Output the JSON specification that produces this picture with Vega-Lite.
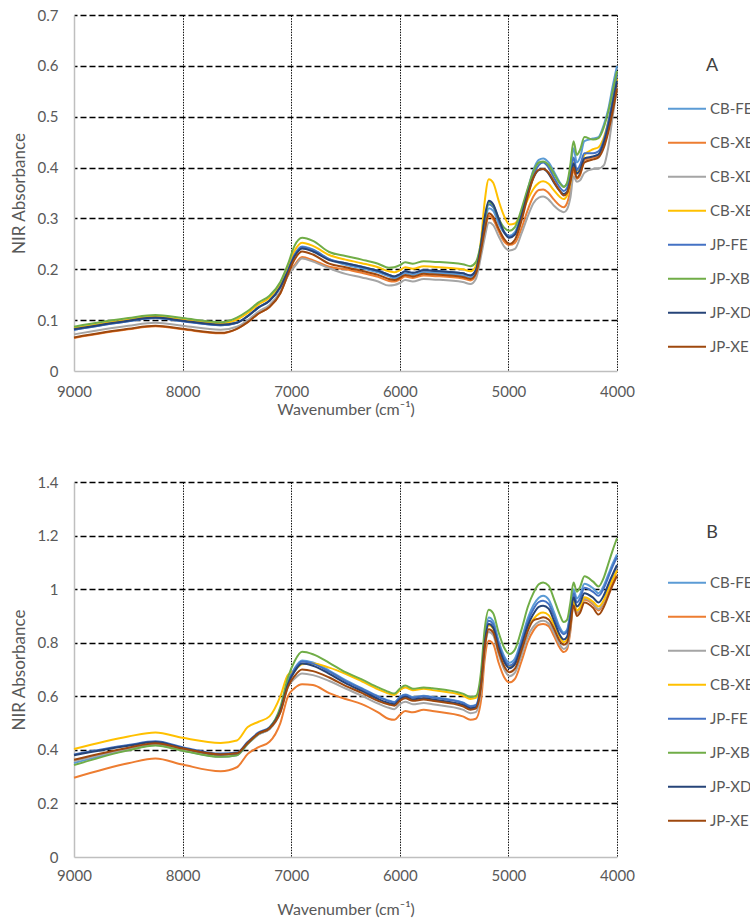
{
"$schema": "https://vega.github.io/schema/vega-lite/v6.json",
"background": "white",
"padding": {"left": 10, "top": 8, "right": 0, "bottom": 4},
"spacing": 111,
"bounds": "flush",
"config": {
 "font": "Lato",
 "view": {"stroke": null},
 "axis": {"labelFont": "Lato", "titleFont": "Lato", "labelColor": "#595959", "titleColor": "#595959", "labelFontSize": 15, "titleFontSize": 16, "titleFontWeight": "normal", "ticks": false, "domainColor": "#bfbfbf", "domainWidth": 1.5, "labelFlush": false},
 "axisX": {"gridColor": "#111111", "gridDash": [1.5, 1.2], "gridWidth": 1},
 "axisY": {"gridColor": "#000000", "gridDash": [6, 3], "gridWidth": 1.6, "labelPadding": 16, "titlePadding": 9, "titleFontSize": 17},
 "legend": {"symbolType": "stroke", "symbolSize": 1444, "symbolStrokeWidth": 2, "labelFont": "Lato", "labelFontSize": 15, "labelColor": "#595959", "labelOffset": 3, "titleFont": "Lato", "titleFontSize": 18, "titleFontWeight": "normal", "titleColor": "#404040", "titleAnchor": "middle", "clipHeight": 33.4, "rowPadding": 0}
},
"resolve": {"scale": {"color": "independent"}, "legend": {"color": "independent"}},
"datasets": {
"A": [
{"s":"CB-FE","w":9000,"v":0.081},{"s":"CB-FE","w":8500,"v":0.098},{"s":"CB-FE","w":8250,"v":0.104},{"s":"CB-FE","w":8000,"v":0.098},{"s":"CB-FE","w":7650,"v":0.090},{"s":"CB-FE","w":7500,"v":0.095},{"s":"CB-FE","w":7400,"v":0.108},{"s":"CB-FE","w":7300,"v":0.125},{"s":"CB-FE","w":7200,"v":0.138},{"s":"CB-FE","w":7100,"v":0.165},{"s":"CB-FE","w":7030,"v":0.198},{"s":"CB-FE","w":6970,"v":0.229},{"s":"CB-FE","w":6900,"v":0.245},{"s":"CB-FE","w":6800,"v":0.239},{"s":"CB-FE","w":6650,"v":0.220},{"s":"CB-FE","w":6500,"v":0.209},{"s":"CB-FE","w":6350,"v":0.202},{"s":"CB-FE","w":6200,"v":0.194},{"s":"CB-FE","w":6100,"v":0.186},{"s":"CB-FE","w":6050,"v":0.182},{"s":"CB-FE","w":6000,"v":0.186},{"s":"CB-FE","w":5950,"v":0.192},{"s":"CB-FE","w":5880,"v":0.189},{"s":"CB-FE","w":5780,"v":0.194},{"s":"CB-FE","w":5700,"v":0.193},{"s":"CB-FE","w":5420,"v":0.188},{"s":"CB-FE","w":5350,"v":0.184},{"s":"CB-FE","w":5300,"v":0.194},{"s":"CB-FE","w":5250,"v":0.245},{"s":"CB-FE","w":5220,"v":0.285},{"s":"CB-FE","w":5180,"v":0.320},{"s":"CB-FE","w":5140,"v":0.315},{"s":"CB-FE","w":5090,"v":0.290},{"s":"CB-FE","w":5040,"v":0.272},{"s":"CB-FE","w":4990,"v":0.266},{"s":"CB-FE","w":4940,"v":0.273},{"s":"CB-FE","w":4880,"v":0.310},{"s":"CB-FE","w":4820,"v":0.358},{"s":"CB-FE","w":4770,"v":0.395},{"s":"CB-FE","w":4720,"v":0.415},{"s":"CB-FE","w":4680,"v":0.418},{"s":"CB-FE","w":4630,"v":0.410},{"s":"CB-FE","w":4580,"v":0.392},{"s":"CB-FE","w":4530,"v":0.372},{"s":"CB-FE","w":4490,"v":0.363},{"s":"CB-FE","w":4460,"v":0.368},{"s":"CB-FE","w":4430,"v":0.395},{"s":"CB-FE","w":4400,"v":0.438},{"s":"CB-FE","w":4370,"v":0.410},{"s":"CB-FE","w":4340,"v":0.420},{"s":"CB-FE","w":4300,"v":0.452},{"s":"CB-FE","w":4220,"v":0.457},{"s":"CB-FE","w":4170,"v":0.460},{"s":"CB-FE","w":4120,"v":0.485},{"s":"CB-FE","w":4080,"v":0.515},{"s":"CB-FE","w":4040,"v":0.560},{"s":"CB-FE","w":4000,"v":0.600},
{"s":"CB-XB","w":9000,"v":0.065},{"s":"CB-XB","w":8500,"v":0.082},{"s":"CB-XB","w":8250,"v":0.088},{"s":"CB-XB","w":8000,"v":0.082},{"s":"CB-XB","w":7650,"v":0.074},{"s":"CB-XB","w":7500,"v":0.083},{"s":"CB-XB","w":7400,"v":0.096},{"s":"CB-XB","w":7300,"v":0.113},{"s":"CB-XB","w":7200,"v":0.126},{"s":"CB-XB","w":7100,"v":0.153},{"s":"CB-XB","w":7030,"v":0.188},{"s":"CB-XB","w":6970,"v":0.208},{"s":"CB-XB","w":6900,"v":0.224},{"s":"CB-XB","w":6800,"v":0.218},{"s":"CB-XB","w":6650,"v":0.205},{"s":"CB-XB","w":6500,"v":0.200},{"s":"CB-XB","w":6350,"v":0.193},{"s":"CB-XB","w":6200,"v":0.185},{"s":"CB-XB","w":6100,"v":0.177},{"s":"CB-XB","w":6050,"v":0.176},{"s":"CB-XB","w":6000,"v":0.180},{"s":"CB-XB","w":5950,"v":0.186},{"s":"CB-XB","w":5880,"v":0.183},{"s":"CB-XB","w":5780,"v":0.188},{"s":"CB-XB","w":5700,"v":0.187},{"s":"CB-XB","w":5420,"v":0.182},{"s":"CB-XB","w":5350,"v":0.178},{"s":"CB-XB","w":5300,"v":0.188},{"s":"CB-XB","w":5250,"v":0.238},{"s":"CB-XB","w":5220,"v":0.270},{"s":"CB-XB","w":5180,"v":0.305},{"s":"CB-XB","w":5140,"v":0.298},{"s":"CB-XB","w":5090,"v":0.275},{"s":"CB-XB","w":5040,"v":0.255},{"s":"CB-XB","w":4990,"v":0.248},{"s":"CB-XB","w":4940,"v":0.252},{"s":"CB-XB","w":4880,"v":0.280},{"s":"CB-XB","w":4820,"v":0.318},{"s":"CB-XB","w":4770,"v":0.343},{"s":"CB-XB","w":4720,"v":0.356},{"s":"CB-XB","w":4680,"v":0.357},{"s":"CB-XB","w":4630,"v":0.350},{"s":"CB-XB","w":4580,"v":0.337},{"s":"CB-XB","w":4530,"v":0.326},{"s":"CB-XB","w":4490,"v":0.322},{"s":"CB-XB","w":4460,"v":0.330},{"s":"CB-XB","w":4430,"v":0.355},{"s":"CB-XB","w":4400,"v":0.395},{"s":"CB-XB","w":4370,"v":0.378},{"s":"CB-XB","w":4340,"v":0.385},{"s":"CB-XB","w":4300,"v":0.415},{"s":"CB-XB","w":4220,"v":0.420},{"s":"CB-XB","w":4170,"v":0.424},{"s":"CB-XB","w":4120,"v":0.445},{"s":"CB-XB","w":4080,"v":0.475},{"s":"CB-XB","w":4040,"v":0.520},{"s":"CB-XB","w":4000,"v":0.565},
{"s":"CB-XD","w":9000,"v":0.072},{"s":"CB-XD","w":8500,"v":0.089},{"s":"CB-XD","w":8250,"v":0.095},{"s":"CB-XD","w":8000,"v":0.089},{"s":"CB-XD","w":7650,"v":0.081},{"s":"CB-XD","w":7500,"v":0.087},{"s":"CB-XD","w":7400,"v":0.100},{"s":"CB-XD","w":7300,"v":0.117},{"s":"CB-XD","w":7200,"v":0.130},{"s":"CB-XD","w":7100,"v":0.157},{"s":"CB-XD","w":7030,"v":0.188},{"s":"CB-XD","w":6970,"v":0.205},{"s":"CB-XD","w":6900,"v":0.221},{"s":"CB-XD","w":6800,"v":0.215},{"s":"CB-XD","w":6650,"v":0.202},{"s":"CB-XD","w":6500,"v":0.191},{"s":"CB-XD","w":6350,"v":0.184},{"s":"CB-XD","w":6200,"v":0.176},{"s":"CB-XD","w":6100,"v":0.168},{"s":"CB-XD","w":6050,"v":0.169},{"s":"CB-XD","w":6000,"v":0.173},{"s":"CB-XD","w":5950,"v":0.179},{"s":"CB-XD","w":5880,"v":0.176},{"s":"CB-XD","w":5780,"v":0.181},{"s":"CB-XD","w":5700,"v":0.180},{"s":"CB-XD","w":5420,"v":0.175},{"s":"CB-XD","w":5350,"v":0.171},{"s":"CB-XD","w":5300,"v":0.181},{"s":"CB-XD","w":5250,"v":0.228},{"s":"CB-XD","w":5220,"v":0.260},{"s":"CB-XD","w":5180,"v":0.292},{"s":"CB-XD","w":5140,"v":0.287},{"s":"CB-XD","w":5090,"v":0.265},{"s":"CB-XD","w":5040,"v":0.245},{"s":"CB-XD","w":4990,"v":0.237},{"s":"CB-XD","w":4940,"v":0.240},{"s":"CB-XD","w":4880,"v":0.270},{"s":"CB-XD","w":4820,"v":0.305},{"s":"CB-XD","w":4770,"v":0.330},{"s":"CB-XD","w":4720,"v":0.341},{"s":"CB-XD","w":4680,"v":0.343},{"s":"CB-XD","w":4630,"v":0.337},{"s":"CB-XD","w":4580,"v":0.325},{"s":"CB-XD","w":4530,"v":0.316},{"s":"CB-XD","w":4490,"v":0.312},{"s":"CB-XD","w":4460,"v":0.318},{"s":"CB-XD","w":4430,"v":0.340},{"s":"CB-XD","w":4400,"v":0.383},{"s":"CB-XD","w":4370,"v":0.372},{"s":"CB-XD","w":4340,"v":0.375},{"s":"CB-XD","w":4300,"v":0.390},{"s":"CB-XD","w":4220,"v":0.397},{"s":"CB-XD","w":4170,"v":0.398},{"s":"CB-XD","w":4120,"v":0.405},{"s":"CB-XD","w":4080,"v":0.440},{"s":"CB-XD","w":4040,"v":0.500},{"s":"CB-XD","w":4000,"v":0.555},
{"s":"CB-XE","w":9000,"v":0.084},{"s":"CB-XE","w":8500,"v":0.101},{"s":"CB-XE","w":8250,"v":0.107},{"s":"CB-XE","w":8000,"v":0.101},{"s":"CB-XE","w":7650,"v":0.093},{"s":"CB-XE","w":7500,"v":0.101},{"s":"CB-XE","w":7400,"v":0.114},{"s":"CB-XE","w":7300,"v":0.131},{"s":"CB-XE","w":7200,"v":0.144},{"s":"CB-XE","w":7100,"v":0.171},{"s":"CB-XE","w":7030,"v":0.206},{"s":"CB-XE","w":6970,"v":0.236},{"s":"CB-XE","w":6900,"v":0.252},{"s":"CB-XE","w":6800,"v":0.246},{"s":"CB-XE","w":6650,"v":0.228},{"s":"CB-XE","w":6500,"v":0.219},{"s":"CB-XE","w":6350,"v":0.212},{"s":"CB-XE","w":6200,"v":0.204},{"s":"CB-XE","w":6100,"v":0.196},{"s":"CB-XE","w":6050,"v":0.194},{"s":"CB-XE","w":6000,"v":0.198},{"s":"CB-XE","w":5950,"v":0.204},{"s":"CB-XE","w":5880,"v":0.201},{"s":"CB-XE","w":5780,"v":0.206},{"s":"CB-XE","w":5700,"v":0.205},{"s":"CB-XE","w":5420,"v":0.200},{"s":"CB-XE","w":5350,"v":0.196},{"s":"CB-XE","w":5300,"v":0.206},{"s":"CB-XE","w":5250,"v":0.262},{"s":"CB-XE","w":5220,"v":0.330},{"s":"CB-XE","w":5180,"v":0.377},{"s":"CB-XE","w":5140,"v":0.370},{"s":"CB-XE","w":5090,"v":0.335},{"s":"CB-XE","w":5040,"v":0.305},{"s":"CB-XE","w":4990,"v":0.288},{"s":"CB-XE","w":4940,"v":0.290},{"s":"CB-XE","w":4880,"v":0.310},{"s":"CB-XE","w":4820,"v":0.338},{"s":"CB-XE","w":4770,"v":0.358},{"s":"CB-XE","w":4720,"v":0.370},{"s":"CB-XE","w":4680,"v":0.373},{"s":"CB-XE","w":4630,"v":0.368},{"s":"CB-XE","w":4580,"v":0.355},{"s":"CB-XE","w":4530,"v":0.343},{"s":"CB-XE","w":4490,"v":0.338},{"s":"CB-XE","w":4460,"v":0.345},{"s":"CB-XE","w":4430,"v":0.370},{"s":"CB-XE","w":4400,"v":0.410},{"s":"CB-XE","w":4370,"v":0.390},{"s":"CB-XE","w":4340,"v":0.398},{"s":"CB-XE","w":4300,"v":0.425},{"s":"CB-XE","w":4220,"v":0.436},{"s":"CB-XE","w":4170,"v":0.440},{"s":"CB-XE","w":4120,"v":0.460},{"s":"CB-XE","w":4080,"v":0.490},{"s":"CB-XE","w":4040,"v":0.530},{"s":"CB-XE","w":4000,"v":0.575},
{"s":"JP-FE","w":9000,"v":0.081},{"s":"JP-FE","w":8500,"v":0.098},{"s":"JP-FE","w":8250,"v":0.104},{"s":"JP-FE","w":8000,"v":0.098},{"s":"JP-FE","w":7650,"v":0.090},{"s":"JP-FE","w":7500,"v":0.095},{"s":"JP-FE","w":7400,"v":0.108},{"s":"JP-FE","w":7300,"v":0.125},{"s":"JP-FE","w":7200,"v":0.138},{"s":"JP-FE","w":7100,"v":0.165},{"s":"JP-FE","w":7030,"v":0.198},{"s":"JP-FE","w":6970,"v":0.228},{"s":"JP-FE","w":6900,"v":0.244},{"s":"JP-FE","w":6800,"v":0.238},{"s":"JP-FE","w":6650,"v":0.220},{"s":"JP-FE","w":6500,"v":0.212},{"s":"JP-FE","w":6350,"v":0.205},{"s":"JP-FE","w":6200,"v":0.197},{"s":"JP-FE","w":6100,"v":0.189},{"s":"JP-FE","w":6050,"v":0.186},{"s":"JP-FE","w":6000,"v":0.190},{"s":"JP-FE","w":5950,"v":0.196},{"s":"JP-FE","w":5880,"v":0.193},{"s":"JP-FE","w":5780,"v":0.198},{"s":"JP-FE","w":5700,"v":0.197},{"s":"JP-FE","w":5420,"v":0.192},{"s":"JP-FE","w":5350,"v":0.188},{"s":"JP-FE","w":5300,"v":0.198},{"s":"JP-FE","w":5250,"v":0.250},{"s":"JP-FE","w":5220,"v":0.295},{"s":"JP-FE","w":5180,"v":0.328},{"s":"JP-FE","w":5140,"v":0.322},{"s":"JP-FE","w":5090,"v":0.296},{"s":"JP-FE","w":5040,"v":0.274},{"s":"JP-FE","w":4990,"v":0.264},{"s":"JP-FE","w":4940,"v":0.270},{"s":"JP-FE","w":4880,"v":0.305},{"s":"JP-FE","w":4820,"v":0.352},{"s":"JP-FE","w":4770,"v":0.385},{"s":"JP-FE","w":4720,"v":0.405},{"s":"JP-FE","w":4680,"v":0.410},{"s":"JP-FE","w":4630,"v":0.400},{"s":"JP-FE","w":4580,"v":0.380},{"s":"JP-FE","w":4530,"v":0.362},{"s":"JP-FE","w":4490,"v":0.354},{"s":"JP-FE","w":4460,"v":0.360},{"s":"JP-FE","w":4430,"v":0.385},{"s":"JP-FE","w":4400,"v":0.420},{"s":"JP-FE","w":4370,"v":0.395},{"s":"JP-FE","w":4340,"v":0.405},{"s":"JP-FE","w":4300,"v":0.428},{"s":"JP-FE","w":4220,"v":0.428},{"s":"JP-FE","w":4170,"v":0.432},{"s":"JP-FE","w":4120,"v":0.455},{"s":"JP-FE","w":4080,"v":0.490},{"s":"JP-FE","w":4040,"v":0.535},{"s":"JP-FE","w":4000,"v":0.585},
{"s":"JP-XB","w":9000,"v":0.087},{"s":"JP-XB","w":8500,"v":0.104},{"s":"JP-XB","w":8250,"v":0.110},{"s":"JP-XB","w":8000,"v":0.104},{"s":"JP-XB","w":7650,"v":0.096},{"s":"JP-XB","w":7500,"v":0.105},{"s":"JP-XB","w":7400,"v":0.118},{"s":"JP-XB","w":7300,"v":0.135},{"s":"JP-XB","w":7200,"v":0.148},{"s":"JP-XB","w":7100,"v":0.175},{"s":"JP-XB","w":7030,"v":0.210},{"s":"JP-XB","w":6970,"v":0.246},{"s":"JP-XB","w":6900,"v":0.262},{"s":"JP-XB","w":6800,"v":0.256},{"s":"JP-XB","w":6650,"v":0.234},{"s":"JP-XB","w":6500,"v":0.226},{"s":"JP-XB","w":6350,"v":0.219},{"s":"JP-XB","w":6200,"v":0.211},{"s":"JP-XB","w":6100,"v":0.203},{"s":"JP-XB","w":6050,"v":0.204},{"s":"JP-XB","w":6000,"v":0.208},{"s":"JP-XB","w":5950,"v":0.214},{"s":"JP-XB","w":5880,"v":0.211},{"s":"JP-XB","w":5780,"v":0.216},{"s":"JP-XB","w":5700,"v":0.215},{"s":"JP-XB","w":5420,"v":0.210},{"s":"JP-XB","w":5350,"v":0.206},{"s":"JP-XB","w":5300,"v":0.214},{"s":"JP-XB","w":5250,"v":0.255},{"s":"JP-XB","w":5220,"v":0.295},{"s":"JP-XB","w":5180,"v":0.332},{"s":"JP-XB","w":5140,"v":0.326},{"s":"JP-XB","w":5090,"v":0.300},{"s":"JP-XB","w":5040,"v":0.282},{"s":"JP-XB","w":4990,"v":0.276},{"s":"JP-XB","w":4940,"v":0.283},{"s":"JP-XB","w":4880,"v":0.318},{"s":"JP-XB","w":4820,"v":0.360},{"s":"JP-XB","w":4770,"v":0.392},{"s":"JP-XB","w":4720,"v":0.410},{"s":"JP-XB","w":4680,"v":0.412},{"s":"JP-XB","w":4630,"v":0.405},{"s":"JP-XB","w":4580,"v":0.388},{"s":"JP-XB","w":4530,"v":0.370},{"s":"JP-XB","w":4490,"v":0.362},{"s":"JP-XB","w":4460,"v":0.370},{"s":"JP-XB","w":4430,"v":0.405},{"s":"JP-XB","w":4400,"v":0.452},{"s":"JP-XB","w":4370,"v":0.425},{"s":"JP-XB","w":4340,"v":0.435},{"s":"JP-XB","w":4300,"v":0.460},{"s":"JP-XB","w":4220,"v":0.455},{"s":"JP-XB","w":4170,"v":0.458},{"s":"JP-XB","w":4120,"v":0.480},{"s":"JP-XB","w":4080,"v":0.510},{"s":"JP-XB","w":4040,"v":0.550},{"s":"JP-XB","w":4000,"v":0.590},
{"s":"JP-XD","w":9000,"v":0.082},{"s":"JP-XD","w":8500,"v":0.099},{"s":"JP-XD","w":8250,"v":0.105},{"s":"JP-XD","w":8000,"v":0.099},{"s":"JP-XD","w":7650,"v":0.091},{"s":"JP-XD","w":7500,"v":0.095},{"s":"JP-XD","w":7400,"v":0.108},{"s":"JP-XD","w":7300,"v":0.125},{"s":"JP-XD","w":7200,"v":0.138},{"s":"JP-XD","w":7100,"v":0.165},{"s":"JP-XD","w":7030,"v":0.196},{"s":"JP-XD","w":6970,"v":0.225},{"s":"JP-XD","w":6900,"v":0.241},{"s":"JP-XD","w":6800,"v":0.235},{"s":"JP-XD","w":6650,"v":0.218},{"s":"JP-XD","w":6500,"v":0.212},{"s":"JP-XD","w":6350,"v":0.205},{"s":"JP-XD","w":6200,"v":0.197},{"s":"JP-XD","w":6100,"v":0.189},{"s":"JP-XD","w":6050,"v":0.186},{"s":"JP-XD","w":6000,"v":0.190},{"s":"JP-XD","w":5950,"v":0.196},{"s":"JP-XD","w":5880,"v":0.193},{"s":"JP-XD","w":5780,"v":0.198},{"s":"JP-XD","w":5700,"v":0.197},{"s":"JP-XD","w":5420,"v":0.192},{"s":"JP-XD","w":5350,"v":0.188},{"s":"JP-XD","w":5300,"v":0.198},{"s":"JP-XD","w":5250,"v":0.252},{"s":"JP-XD","w":5220,"v":0.300},{"s":"JP-XD","w":5180,"v":0.335},{"s":"JP-XD","w":5140,"v":0.328},{"s":"JP-XD","w":5090,"v":0.300},{"s":"JP-XD","w":5040,"v":0.273},{"s":"JP-XD","w":4990,"v":0.262},{"s":"JP-XD","w":4940,"v":0.268},{"s":"JP-XD","w":4880,"v":0.305},{"s":"JP-XD","w":4820,"v":0.350},{"s":"JP-XD","w":4770,"v":0.380},{"s":"JP-XD","w":4720,"v":0.395},{"s":"JP-XD","w":4680,"v":0.397},{"s":"JP-XD","w":4630,"v":0.388},{"s":"JP-XD","w":4580,"v":0.370},{"s":"JP-XD","w":4530,"v":0.355},{"s":"JP-XD","w":4490,"v":0.348},{"s":"JP-XD","w":4460,"v":0.352},{"s":"JP-XD","w":4430,"v":0.375},{"s":"JP-XD","w":4400,"v":0.408},{"s":"JP-XD","w":4370,"v":0.388},{"s":"JP-XD","w":4340,"v":0.395},{"s":"JP-XD","w":4300,"v":0.418},{"s":"JP-XD","w":4220,"v":0.422},{"s":"JP-XD","w":4170,"v":0.426},{"s":"JP-XD","w":4120,"v":0.450},{"s":"JP-XD","w":4080,"v":0.482},{"s":"JP-XD","w":4040,"v":0.525},{"s":"JP-XD","w":4000,"v":0.570},
{"s":"JP-XE","w":9000,"v":0.066},{"s":"JP-XE","w":8500,"v":0.083},{"s":"JP-XE","w":8250,"v":0.089},{"s":"JP-XE","w":8000,"v":0.083},{"s":"JP-XE","w":7650,"v":0.075},{"s":"JP-XE","w":7500,"v":0.083},{"s":"JP-XE","w":7400,"v":0.096},{"s":"JP-XE","w":7300,"v":0.113},{"s":"JP-XE","w":7200,"v":0.126},{"s":"JP-XE","w":7100,"v":0.153},{"s":"JP-XE","w":7030,"v":0.190},{"s":"JP-XE","w":6970,"v":0.219},{"s":"JP-XE","w":6900,"v":0.235},{"s":"JP-XE","w":6800,"v":0.229},{"s":"JP-XE","w":6650,"v":0.211},{"s":"JP-XE","w":6500,"v":0.204},{"s":"JP-XE","w":6350,"v":0.197},{"s":"JP-XE","w":6200,"v":0.189},{"s":"JP-XE","w":6100,"v":0.181},{"s":"JP-XE","w":6050,"v":0.179},{"s":"JP-XE","w":6000,"v":0.183},{"s":"JP-XE","w":5950,"v":0.189},{"s":"JP-XE","w":5880,"v":0.186},{"s":"JP-XE","w":5780,"v":0.191},{"s":"JP-XE","w":5700,"v":0.190},{"s":"JP-XE","w":5420,"v":0.185},{"s":"JP-XE","w":5350,"v":0.181},{"s":"JP-XE","w":5300,"v":0.191},{"s":"JP-XE","w":5250,"v":0.240},{"s":"JP-XE","w":5220,"v":0.275},{"s":"JP-XE","w":5180,"v":0.310},{"s":"JP-XE","w":5140,"v":0.303},{"s":"JP-XE","w":5090,"v":0.280},{"s":"JP-XE","w":5040,"v":0.260},{"s":"JP-XE","w":4990,"v":0.250},{"s":"JP-XE","w":4940,"v":0.258},{"s":"JP-XE","w":4880,"v":0.295},{"s":"JP-XE","w":4820,"v":0.345},{"s":"JP-XE","w":4770,"v":0.380},{"s":"JP-XE","w":4720,"v":0.396},{"s":"JP-XE","w":4680,"v":0.397},{"s":"JP-XE","w":4630,"v":0.390},{"s":"JP-XE","w":4580,"v":0.372},{"s":"JP-XE","w":4530,"v":0.355},{"s":"JP-XE","w":4490,"v":0.345},{"s":"JP-XE","w":4460,"v":0.350},{"s":"JP-XE","w":4430,"v":0.372},{"s":"JP-XE","w":4400,"v":0.400},{"s":"JP-XE","w":4370,"v":0.380},{"s":"JP-XE","w":4340,"v":0.388},{"s":"JP-XE","w":4300,"v":0.410},{"s":"JP-XE","w":4220,"v":0.416},{"s":"JP-XE","w":4170,"v":0.420},{"s":"JP-XE","w":4120,"v":0.440},{"s":"JP-XE","w":4080,"v":0.470},{"s":"JP-XE","w":4040,"v":0.510},{"s":"JP-XE","w":4000,"v":0.555}
],
"B": [
{"s":"CB-FE","w":9000,"v":0.351},{"s":"CB-FE","w":8500,"v":0.400},{"s":"CB-FE","w":8250,"v":0.418},{"s":"CB-FE","w":8000,"v":0.398},{"s":"CB-FE","w":7650,"v":0.374},{"s":"CB-FE","w":7500,"v":0.380},{"s":"CB-FE","w":7400,"v":0.422},{"s":"CB-FE","w":7300,"v":0.458},{"s":"CB-FE","w":7200,"v":0.478},{"s":"CB-FE","w":7100,"v":0.548},{"s":"CB-FE","w":7030,"v":0.655},{"s":"CB-FE","w":6970,"v":0.704},{"s":"CB-FE","w":6900,"v":0.734},{"s":"CB-FE","w":6800,"v":0.726},{"s":"CB-FE","w":6650,"v":0.696},{"s":"CB-FE","w":6500,"v":0.660},{"s":"CB-FE","w":6350,"v":0.630},{"s":"CB-FE","w":6200,"v":0.600},{"s":"CB-FE","w":6100,"v":0.584},{"s":"CB-FE","w":6050,"v":0.579},{"s":"CB-FE","w":6000,"v":0.597},{"s":"CB-FE","w":5950,"v":0.607},{"s":"CB-FE","w":5880,"v":0.597},{"s":"CB-FE","w":5780,"v":0.602},{"s":"CB-FE","w":5700,"v":0.597},{"s":"CB-FE","w":5420,"v":0.577},{"s":"CB-FE","w":5350,"v":0.564},{"s":"CB-FE","w":5300,"v":0.568},{"s":"CB-FE","w":5250,"v":0.665},{"s":"CB-FE","w":5220,"v":0.810},{"s":"CB-FE","w":5180,"v":0.894},{"s":"CB-FE","w":5140,"v":0.880},{"s":"CB-FE","w":5090,"v":0.806},{"s":"CB-FE","w":5040,"v":0.751},{"s":"CB-FE","w":4990,"v":0.725},{"s":"CB-FE","w":4940,"v":0.741},{"s":"CB-FE","w":4880,"v":0.812},{"s":"CB-FE","w":4820,"v":0.893},{"s":"CB-FE","w":4770,"v":0.940},{"s":"CB-FE","w":4720,"v":0.968},{"s":"CB-FE","w":4680,"v":0.975},{"s":"CB-FE","w":4630,"v":0.962},{"s":"CB-FE","w":4580,"v":0.914},{"s":"CB-FE","w":4530,"v":0.860},{"s":"CB-FE","w":4490,"v":0.838},{"s":"CB-FE","w":4460,"v":0.848},{"s":"CB-FE","w":4430,"v":0.915},{"s":"CB-FE","w":4400,"v":1.000},{"s":"CB-FE","w":4370,"v":0.965},{"s":"CB-FE","w":4340,"v":0.980},{"s":"CB-FE","w":4300,"v":1.020},{"s":"CB-FE","w":4220,"v":1.003},{"s":"CB-FE","w":4170,"v":0.985},{"s":"CB-FE","w":4120,"v":1.015},{"s":"CB-FE","w":4080,"v":1.055},{"s":"CB-FE","w":4040,"v":1.095},{"s":"CB-FE","w":4000,"v":1.130},
{"s":"CB-XB","w":9000,"v":0.296},{"s":"CB-XB","w":8500,"v":0.350},{"s":"CB-XB","w":8250,"v":0.368},{"s":"CB-XB","w":8000,"v":0.345},{"s":"CB-XB","w":7650,"v":0.320},{"s":"CB-XB","w":7500,"v":0.335},{"s":"CB-XB","w":7400,"v":0.385},{"s":"CB-XB","w":7300,"v":0.410},{"s":"CB-XB","w":7200,"v":0.430},{"s":"CB-XB","w":7100,"v":0.500},{"s":"CB-XB","w":7030,"v":0.600},{"s":"CB-XB","w":6970,"v":0.630},{"s":"CB-XB","w":6900,"v":0.645},{"s":"CB-XB","w":6800,"v":0.642},{"s":"CB-XB","w":6650,"v":0.612},{"s":"CB-XB","w":6500,"v":0.590},{"s":"CB-XB","w":6350,"v":0.571},{"s":"CB-XB","w":6200,"v":0.540},{"s":"CB-XB","w":6100,"v":0.515},{"s":"CB-XB","w":6050,"v":0.512},{"s":"CB-XB","w":6000,"v":0.530},{"s":"CB-XB","w":5950,"v":0.545},{"s":"CB-XB","w":5880,"v":0.540},{"s":"CB-XB","w":5780,"v":0.550},{"s":"CB-XB","w":5700,"v":0.545},{"s":"CB-XB","w":5420,"v":0.525},{"s":"CB-XB","w":5350,"v":0.512},{"s":"CB-XB","w":5300,"v":0.516},{"s":"CB-XB","w":5250,"v":0.590},{"s":"CB-XB","w":5220,"v":0.730},{"s":"CB-XB","w":5180,"v":0.807},{"s":"CB-XB","w":5140,"v":0.795},{"s":"CB-XB","w":5090,"v":0.725},{"s":"CB-XB","w":5040,"v":0.672},{"s":"CB-XB","w":4990,"v":0.652},{"s":"CB-XB","w":4940,"v":0.665},{"s":"CB-XB","w":4880,"v":0.730},{"s":"CB-XB","w":4820,"v":0.805},{"s":"CB-XB","w":4770,"v":0.845},{"s":"CB-XB","w":4720,"v":0.867},{"s":"CB-XB","w":4680,"v":0.870},{"s":"CB-XB","w":4630,"v":0.862},{"s":"CB-XB","w":4580,"v":0.825},{"s":"CB-XB","w":4530,"v":0.783},{"s":"CB-XB","w":4490,"v":0.765},{"s":"CB-XB","w":4460,"v":0.775},{"s":"CB-XB","w":4430,"v":0.840},{"s":"CB-XB","w":4400,"v":0.945},{"s":"CB-XB","w":4370,"v":0.910},{"s":"CB-XB","w":4340,"v":0.920},{"s":"CB-XB","w":4300,"v":0.960},{"s":"CB-XB","w":4220,"v":0.943},{"s":"CB-XB","w":4170,"v":0.920},{"s":"CB-XB","w":4120,"v":0.950},{"s":"CB-XB","w":4080,"v":0.990},{"s":"CB-XB","w":4040,"v":1.030},{"s":"CB-XB","w":4000,"v":1.070},
{"s":"CB-XD","w":9000,"v":0.358},{"s":"CB-XD","w":8500,"v":0.403},{"s":"CB-XD","w":8250,"v":0.420},{"s":"CB-XD","w":8000,"v":0.400},{"s":"CB-XD","w":7650,"v":0.376},{"s":"CB-XD","w":7500,"v":0.382},{"s":"CB-XD","w":7400,"v":0.422},{"s":"CB-XD","w":7300,"v":0.458},{"s":"CB-XD","w":7200,"v":0.477},{"s":"CB-XD","w":7100,"v":0.540},{"s":"CB-XD","w":7030,"v":0.635},{"s":"CB-XD","w":6970,"v":0.665},{"s":"CB-XD","w":6900,"v":0.685},{"s":"CB-XD","w":6800,"v":0.679},{"s":"CB-XD","w":6650,"v":0.657},{"s":"CB-XD","w":6500,"v":0.629},{"s":"CB-XD","w":6350,"v":0.602},{"s":"CB-XD","w":6200,"v":0.573},{"s":"CB-XD","w":6100,"v":0.557},{"s":"CB-XD","w":6050,"v":0.552},{"s":"CB-XD","w":6000,"v":0.571},{"s":"CB-XD","w":5950,"v":0.580},{"s":"CB-XD","w":5880,"v":0.570},{"s":"CB-XD","w":5780,"v":0.575},{"s":"CB-XD","w":5700,"v":0.570},{"s":"CB-XD","w":5420,"v":0.550},{"s":"CB-XD","w":5350,"v":0.537},{"s":"CB-XD","w":5300,"v":0.541},{"s":"CB-XD","w":5250,"v":0.630},{"s":"CB-XD","w":5220,"v":0.765},{"s":"CB-XD","w":5180,"v":0.840},{"s":"CB-XD","w":5140,"v":0.828},{"s":"CB-XD","w":5090,"v":0.757},{"s":"CB-XD","w":5040,"v":0.702},{"s":"CB-XD","w":4990,"v":0.675},{"s":"CB-XD","w":4940,"v":0.688},{"s":"CB-XD","w":4880,"v":0.752},{"s":"CB-XD","w":4820,"v":0.825},{"s":"CB-XD","w":4770,"v":0.860},{"s":"CB-XD","w":4720,"v":0.878},{"s":"CB-XD","w":4680,"v":0.882},{"s":"CB-XD","w":4630,"v":0.872},{"s":"CB-XD","w":4580,"v":0.838},{"s":"CB-XD","w":4530,"v":0.795},{"s":"CB-XD","w":4490,"v":0.777},{"s":"CB-XD","w":4460,"v":0.785},{"s":"CB-XD","w":4430,"v":0.850},{"s":"CB-XD","w":4400,"v":0.950},{"s":"CB-XD","w":4370,"v":0.915},{"s":"CB-XD","w":4340,"v":0.925},{"s":"CB-XD","w":4300,"v":0.965},{"s":"CB-XD","w":4220,"v":0.948},{"s":"CB-XD","w":4170,"v":0.925},{"s":"CB-XD","w":4120,"v":0.955},{"s":"CB-XD","w":4080,"v":1.000},{"s":"CB-XD","w":4040,"v":1.040},{"s":"CB-XD","w":4000,"v":1.080},
{"s":"CB-XE","w":9000,"v":0.403},{"s":"CB-XE","w":8500,"v":0.450},{"s":"CB-XE","w":8250,"v":0.465},{"s":"CB-XE","w":8000,"v":0.445},{"s":"CB-XE","w":7650,"v":0.426},{"s":"CB-XE","w":7500,"v":0.435},{"s":"CB-XE","w":7400,"v":0.485},{"s":"CB-XE","w":7300,"v":0.505},{"s":"CB-XE","w":7200,"v":0.525},{"s":"CB-XE","w":7100,"v":0.600},{"s":"CB-XE","w":7030,"v":0.680},{"s":"CB-XE","w":6970,"v":0.695},{"s":"CB-XE","w":6900,"v":0.720},{"s":"CB-XE","w":6800,"v":0.722},{"s":"CB-XE","w":6650,"v":0.707},{"s":"CB-XE","w":6500,"v":0.684},{"s":"CB-XE","w":6350,"v":0.656},{"s":"CB-XE","w":6200,"v":0.626},{"s":"CB-XE","w":6100,"v":0.610},{"s":"CB-XE","w":6050,"v":0.605},{"s":"CB-XE","w":6000,"v":0.623},{"s":"CB-XE","w":5950,"v":0.633},{"s":"CB-XE","w":5880,"v":0.623},{"s":"CB-XE","w":5780,"v":0.628},{"s":"CB-XE","w":5700,"v":0.623},{"s":"CB-XE","w":5420,"v":0.603},{"s":"CB-XE","w":5350,"v":0.590},{"s":"CB-XE","w":5300,"v":0.594},{"s":"CB-XE","w":5250,"v":0.670},{"s":"CB-XE","w":5220,"v":0.790},{"s":"CB-XE","w":5180,"v":0.865},{"s":"CB-XE","w":5140,"v":0.852},{"s":"CB-XE","w":5090,"v":0.782},{"s":"CB-XE","w":5040,"v":0.730},{"s":"CB-XE","w":4990,"v":0.710},{"s":"CB-XE","w":4940,"v":0.722},{"s":"CB-XE","w":4880,"v":0.785},{"s":"CB-XE","w":4820,"v":0.855},{"s":"CB-XE","w":4770,"v":0.888},{"s":"CB-XE","w":4720,"v":0.908},{"s":"CB-XE","w":4680,"v":0.913},{"s":"CB-XE","w":4630,"v":0.903},{"s":"CB-XE","w":4580,"v":0.868},{"s":"CB-XE","w":4530,"v":0.823},{"s":"CB-XE","w":4490,"v":0.802},{"s":"CB-XE","w":4460,"v":0.812},{"s":"CB-XE","w":4430,"v":0.870},{"s":"CB-XE","w":4400,"v":0.955},{"s":"CB-XE","w":4370,"v":0.920},{"s":"CB-XE","w":4340,"v":0.932},{"s":"CB-XE","w":4300,"v":0.970},{"s":"CB-XE","w":4220,"v":0.953},{"s":"CB-XE","w":4170,"v":0.935},{"s":"CB-XE","w":4120,"v":0.960},{"s":"CB-XE","w":4080,"v":1.000},{"s":"CB-XE","w":4040,"v":1.035},{"s":"CB-XE","w":4000,"v":1.070},
{"s":"JP-FE","w":9000,"v":0.383},{"s":"JP-FE","w":8500,"v":0.418},{"s":"JP-FE","w":8250,"v":0.432},{"s":"JP-FE","w":8000,"v":0.410},{"s":"JP-FE","w":7650,"v":0.386},{"s":"JP-FE","w":7500,"v":0.390},{"s":"JP-FE","w":7400,"v":0.430},{"s":"JP-FE","w":7300,"v":0.465},{"s":"JP-FE","w":7200,"v":0.485},{"s":"JP-FE","w":7100,"v":0.550},{"s":"JP-FE","w":7030,"v":0.650},{"s":"JP-FE","w":6970,"v":0.700},{"s":"JP-FE","w":6900,"v":0.730},{"s":"JP-FE","w":6800,"v":0.722},{"s":"JP-FE","w":6650,"v":0.692},{"s":"JP-FE","w":6500,"v":0.657},{"s":"JP-FE","w":6350,"v":0.628},{"s":"JP-FE","w":6200,"v":0.598},{"s":"JP-FE","w":6100,"v":0.582},{"s":"JP-FE","w":6050,"v":0.577},{"s":"JP-FE","w":6000,"v":0.595},{"s":"JP-FE","w":5950,"v":0.605},{"s":"JP-FE","w":5880,"v":0.595},{"s":"JP-FE","w":5780,"v":0.600},{"s":"JP-FE","w":5700,"v":0.595},{"s":"JP-FE","w":5420,"v":0.575},{"s":"JP-FE","w":5350,"v":0.562},{"s":"JP-FE","w":5300,"v":0.566},{"s":"JP-FE","w":5250,"v":0.660},{"s":"JP-FE","w":5220,"v":0.800},{"s":"JP-FE","w":5180,"v":0.882},{"s":"JP-FE","w":5140,"v":0.868},{"s":"JP-FE","w":5090,"v":0.795},{"s":"JP-FE","w":5040,"v":0.740},{"s":"JP-FE","w":4990,"v":0.715},{"s":"JP-FE","w":4940,"v":0.730},{"s":"JP-FE","w":4880,"v":0.800},{"s":"JP-FE","w":4820,"v":0.880},{"s":"JP-FE","w":4770,"v":0.925},{"s":"JP-FE","w":4720,"v":0.952},{"s":"JP-FE","w":4680,"v":0.957},{"s":"JP-FE","w":4630,"v":0.945},{"s":"JP-FE","w":4580,"v":0.900},{"s":"JP-FE","w":4530,"v":0.850},{"s":"JP-FE","w":4490,"v":0.832},{"s":"JP-FE","w":4460,"v":0.842},{"s":"JP-FE","w":4430,"v":0.905},{"s":"JP-FE","w":4400,"v":0.985},{"s":"JP-FE","w":4370,"v":0.950},{"s":"JP-FE","w":4340,"v":0.965},{"s":"JP-FE","w":4300,"v":1.005},{"s":"JP-FE","w":4220,"v":0.990},{"s":"JP-FE","w":4170,"v":0.975},{"s":"JP-FE","w":4120,"v":1.005},{"s":"JP-FE","w":4080,"v":1.045},{"s":"JP-FE","w":4040,"v":1.085},{"s":"JP-FE","w":4000,"v":1.120},
{"s":"JP-XB","w":9000,"v":0.343},{"s":"JP-XB","w":8500,"v":0.398},{"s":"JP-XB","w":8250,"v":0.416},{"s":"JP-XB","w":8000,"v":0.397},{"s":"JP-XB","w":7650,"v":0.374},{"s":"JP-XB","w":7500,"v":0.380},{"s":"JP-XB","w":7400,"v":0.424},{"s":"JP-XB","w":7300,"v":0.460},{"s":"JP-XB","w":7200,"v":0.482},{"s":"JP-XB","w":7100,"v":0.560},{"s":"JP-XB","w":7030,"v":0.670},{"s":"JP-XB","w":6970,"v":0.730},{"s":"JP-XB","w":6900,"v":0.766},{"s":"JP-XB","w":6800,"v":0.757},{"s":"JP-XB","w":6650,"v":0.725},{"s":"JP-XB","w":6500,"v":0.690},{"s":"JP-XB","w":6350,"v":0.663},{"s":"JP-XB","w":6200,"v":0.633},{"s":"JP-XB","w":6100,"v":0.616},{"s":"JP-XB","w":6050,"v":0.610},{"s":"JP-XB","w":6000,"v":0.628},{"s":"JP-XB","w":5950,"v":0.640},{"s":"JP-XB","w":5880,"v":0.628},{"s":"JP-XB","w":5780,"v":0.633},{"s":"JP-XB","w":5700,"v":0.630},{"s":"JP-XB","w":5420,"v":0.610},{"s":"JP-XB","w":5350,"v":0.597},{"s":"JP-XB","w":5300,"v":0.601},{"s":"JP-XB","w":5250,"v":0.700},{"s":"JP-XB","w":5220,"v":0.845},{"s":"JP-XB","w":5180,"v":0.923},{"s":"JP-XB","w":5140,"v":0.910},{"s":"JP-XB","w":5090,"v":0.838},{"s":"JP-XB","w":5040,"v":0.782},{"s":"JP-XB","w":4990,"v":0.758},{"s":"JP-XB","w":4940,"v":0.775},{"s":"JP-XB","w":4880,"v":0.848},{"s":"JP-XB","w":4820,"v":0.935},{"s":"JP-XB","w":4770,"v":0.985},{"s":"JP-XB","w":4720,"v":1.018},{"s":"JP-XB","w":4680,"v":1.025},{"s":"JP-XB","w":4630,"v":1.013},{"s":"JP-XB","w":4580,"v":0.963},{"s":"JP-XB","w":4530,"v":0.908},{"s":"JP-XB","w":4490,"v":0.877},{"s":"JP-XB","w":4460,"v":0.885},{"s":"JP-XB","w":4430,"v":0.948},{"s":"JP-XB","w":4400,"v":1.025},{"s":"JP-XB","w":4370,"v":0.990},{"s":"JP-XB","w":4340,"v":1.008},{"s":"JP-XB","w":4300,"v":1.048},{"s":"JP-XB","w":4220,"v":1.028},{"s":"JP-XB","w":4170,"v":1.010},{"s":"JP-XB","w":4120,"v":1.045},{"s":"JP-XB","w":4080,"v":1.095},{"s":"JP-XB","w":4040,"v":1.145},{"s":"JP-XB","w":4000,"v":1.190},
{"s":"JP-XD","w":9000,"v":0.380},{"s":"JP-XD","w":8500,"v":0.415},{"s":"JP-XD","w":8250,"v":0.429},{"s":"JP-XD","w":8000,"v":0.407},{"s":"JP-XD","w":7650,"v":0.383},{"s":"JP-XD","w":7500,"v":0.387},{"s":"JP-XD","w":7400,"v":0.427},{"s":"JP-XD","w":7300,"v":0.462},{"s":"JP-XD","w":7200,"v":0.482},{"s":"JP-XD","w":7100,"v":0.547},{"s":"JP-XD","w":7030,"v":0.645},{"s":"JP-XD","w":6970,"v":0.692},{"s":"JP-XD","w":6900,"v":0.722},{"s":"JP-XD","w":6800,"v":0.714},{"s":"JP-XD","w":6650,"v":0.684},{"s":"JP-XD","w":6500,"v":0.649},{"s":"JP-XD","w":6350,"v":0.620},{"s":"JP-XD","w":6200,"v":0.590},{"s":"JP-XD","w":6100,"v":0.574},{"s":"JP-XD","w":6050,"v":0.570},{"s":"JP-XD","w":6000,"v":0.588},{"s":"JP-XD","w":5950,"v":0.598},{"s":"JP-XD","w":5880,"v":0.588},{"s":"JP-XD","w":5780,"v":0.593},{"s":"JP-XD","w":5700,"v":0.588},{"s":"JP-XD","w":5420,"v":0.568},{"s":"JP-XD","w":5350,"v":0.555},{"s":"JP-XD","w":5300,"v":0.559},{"s":"JP-XD","w":5250,"v":0.655},{"s":"JP-XD","w":5220,"v":0.792},{"s":"JP-XD","w":5180,"v":0.870},{"s":"JP-XD","w":5140,"v":0.856},{"s":"JP-XD","w":5090,"v":0.784},{"s":"JP-XD","w":5040,"v":0.730},{"s":"JP-XD","w":4990,"v":0.705},{"s":"JP-XD","w":4940,"v":0.720},{"s":"JP-XD","w":4880,"v":0.788},{"s":"JP-XD","w":4820,"v":0.865},{"s":"JP-XD","w":4770,"v":0.907},{"s":"JP-XD","w":4720,"v":0.934},{"s":"JP-XD","w":4680,"v":0.938},{"s":"JP-XD","w":4630,"v":0.927},{"s":"JP-XD","w":4580,"v":0.882},{"s":"JP-XD","w":4530,"v":0.832},{"s":"JP-XD","w":4490,"v":0.812},{"s":"JP-XD","w":4460,"v":0.822},{"s":"JP-XD","w":4430,"v":0.888},{"s":"JP-XD","w":4400,"v":0.970},{"s":"JP-XD","w":4370,"v":0.935},{"s":"JP-XD","w":4340,"v":0.948},{"s":"JP-XD","w":4300,"v":0.985},{"s":"JP-XD","w":4220,"v":0.968},{"s":"JP-XD","w":4170,"v":0.950},{"s":"JP-XD","w":4120,"v":0.978},{"s":"JP-XD","w":4080,"v":1.018},{"s":"JP-XD","w":4040,"v":1.055},{"s":"JP-XD","w":4000,"v":1.090},
{"s":"JP-XE","w":9000,"v":0.363},{"s":"JP-XE","w":8500,"v":0.408},{"s":"JP-XE","w":8250,"v":0.425},{"s":"JP-XE","w":8000,"v":0.405},{"s":"JP-XE","w":7650,"v":0.383},{"s":"JP-XE","w":7500,"v":0.387},{"s":"JP-XE","w":7400,"v":0.426},{"s":"JP-XE","w":7300,"v":0.461},{"s":"JP-XE","w":7200,"v":0.480},{"s":"JP-XE","w":7100,"v":0.540},{"s":"JP-XE","w":7030,"v":0.635},{"s":"JP-XE","w":6970,"v":0.675},{"s":"JP-XE","w":6900,"v":0.700},{"s":"JP-XE","w":6800,"v":0.694},{"s":"JP-XE","w":6650,"v":0.670},{"s":"JP-XE","w":6500,"v":0.639},{"s":"JP-XE","w":6350,"v":0.613},{"s":"JP-XE","w":6200,"v":0.583},{"s":"JP-XE","w":6100,"v":0.569},{"s":"JP-XE","w":6050,"v":0.565},{"s":"JP-XE","w":6000,"v":0.583},{"s":"JP-XE","w":5950,"v":0.593},{"s":"JP-XE","w":5880,"v":0.583},{"s":"JP-XE","w":5780,"v":0.588},{"s":"JP-XE","w":5700,"v":0.583},{"s":"JP-XE","w":5420,"v":0.563},{"s":"JP-XE","w":5350,"v":0.550},{"s":"JP-XE","w":5300,"v":0.554},{"s":"JP-XE","w":5250,"v":0.645},{"s":"JP-XE","w":5220,"v":0.775},{"s":"JP-XE","w":5180,"v":0.850},{"s":"JP-XE","w":5140,"v":0.838},{"s":"JP-XE","w":5090,"v":0.767},{"s":"JP-XE","w":5040,"v":0.713},{"s":"JP-XE","w":4990,"v":0.690},{"s":"JP-XE","w":4940,"v":0.703},{"s":"JP-XE","w":4880,"v":0.770},{"s":"JP-XE","w":4820,"v":0.845},{"s":"JP-XE","w":4770,"v":0.883},{"s":"JP-XE","w":4720,"v":0.890},{"s":"JP-XE","w":4680,"v":0.895},{"s":"JP-XE","w":4630,"v":0.887},{"s":"JP-XE","w":4580,"v":0.852},{"s":"JP-XE","w":4530,"v":0.808},{"s":"JP-XE","w":4490,"v":0.792},{"s":"JP-XE","w":4460,"v":0.800},{"s":"JP-XE","w":4430,"v":0.860},{"s":"JP-XE","w":4400,"v":0.940},{"s":"JP-XE","w":4370,"v":0.900},{"s":"JP-XE","w":4340,"v":0.912},{"s":"JP-XE","w":4300,"v":0.950},{"s":"JP-XE","w":4220,"v":0.930},{"s":"JP-XE","w":4170,"v":0.905},{"s":"JP-XE","w":4120,"v":0.935},{"s":"JP-XE","w":4080,"v":0.975},{"s":"JP-XE","w":4040,"v":1.015},{"s":"JP-XE","w":4000,"v":1.050}
]
},
"vconcat": [
{
 "width": 543, "height": 356,
 "data": {"name": "A"},
 "mark": {"type": "line", "strokeWidth": 2, "interpolate": "monotone"},
 "encoding": {
  "x": {"field": "w", "type": "quantitative", "scale": {"domain": [4000, 9000], "reverse": true, "nice": false, "zero": false}, "axis": {"values": [9000, 8000, 7000, 6000, 5000, 4000], "format": "d", "title": "Wavenumber (cm⁻¹)", "labelPadding": 13, "titlePadding": 2, "gridOpacity": {"condition": {"test": "datum.value === 9000", "value": 0}, "value": 1}}},
  "y": {"field": "v", "type": "quantitative", "scale": {"domain": [0, 0.7], "nice": false}, "axis": {"values": [0, 0.1, 0.2, 0.3, 0.4, 0.5, 0.6, 0.7], "format": "~g", "title": "NIR Absorbance", "gridOpacity": {"condition": {"test": "datum.value === 0", "value": 0}, "value": 1}}},
  "color": {"field": "s", "type": "nominal", "scale": {"domain": ["CB-FE", "CB-XB", "CB-XD", "CB-XE", "JP-FE", "JP-XB", "JP-XD", "JP-XE"], "range": ["#5B9BD5", "#ED7D31", "#A5A5A5", "#FFC000", "#4472C4", "#70AD47", "#264478", "#9E480E"]}, "legend": {"title": "A", "orient": "none", "legendX": 593, "legendY": 42, "titlePadding": 17}}
 }
},
{
 "width": 543, "height": 375,
 "data": {"name": "B"},
 "mark": {"type": "line", "strokeWidth": 2, "interpolate": "monotone"},
 "encoding": {
  "x": {"field": "w", "type": "quantitative", "scale": {"domain": [4000, 9000], "reverse": true, "nice": false, "zero": false}, "axis": {"values": [9000, 8000, 7000, 6000, 5000, 4000], "format": "d", "title": "Wavenumber (cm⁻¹)", "labelPadding": 11, "titlePadding": 18, "gridOpacity": {"condition": {"test": "datum.value === 9000", "value": 0}, "value": 1}}},
  "y": {"field": "v", "type": "quantitative", "scale": {"domain": [0, 1.4], "nice": false}, "axis": {"values": [0, 0.2, 0.4, 0.6, 0.8, 1, 1.2, 1.4], "format": "~g", "title": "NIR Absorbance", "gridOpacity": {"condition": {"test": "datum.value === 0", "value": 0}, "value": 1}}},
  "color": {"field": "s", "type": "nominal", "scale": {"domain": ["CB-FE", "CB-XB", "CB-XD", "CB-XE", "JP-FE", "JP-XB", "JP-XD", "JP-XE"], "range": ["#5B9BD5", "#ED7D31", "#A5A5A5", "#FFC000", "#4472C4", "#70AD47", "#264478", "#9E480E"]}, "legend": {"title": "B", "orient": "none", "legendX": 593, "legendY": 42, "titlePadding": 24}}
 }
}
]
}
